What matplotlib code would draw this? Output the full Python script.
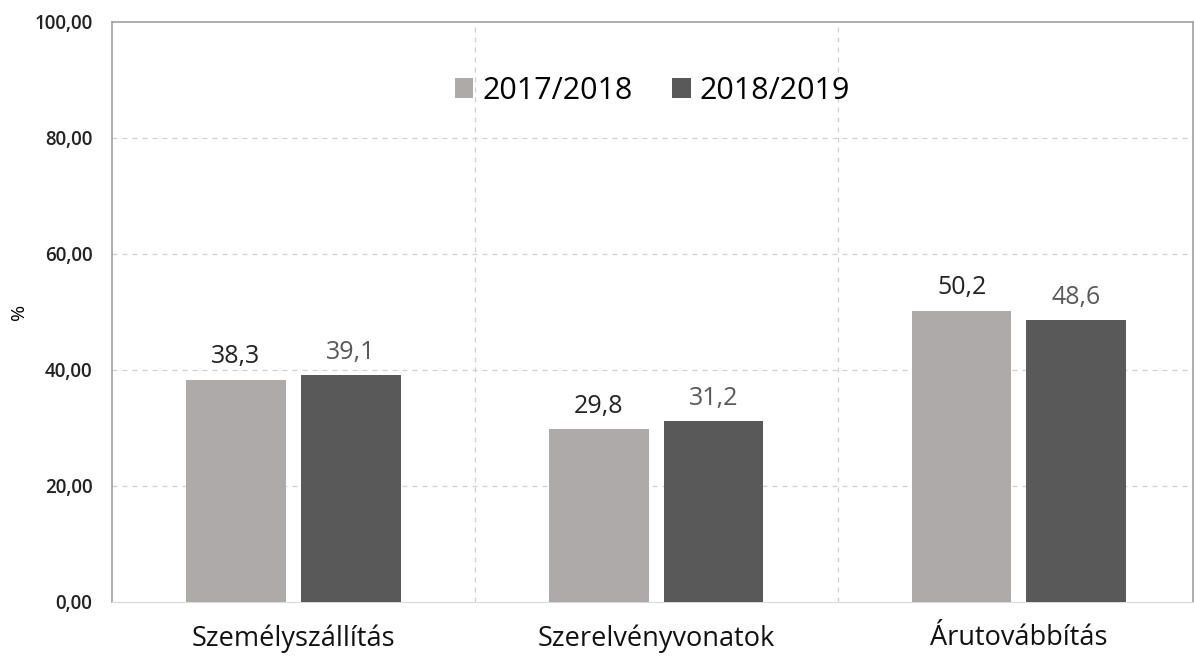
import matplotlib.pyplot as plt
import numpy as np

categories = ['Személyszállítás', 'Szerelvényvonatok', 'Árutovábbítás']
series_names = ['2017/2018', '2018/2019']
values_1718 = [38.3, 29.8, 50.2]
values_1819 = [39.1, 31.2, 48.6]
yticks = [0, 20, 40, 60, 80, 100]

plt.rcParams['font.family'] = ['Open Sans', 'DejaVu Sans']

fig = plt.figure(figsize=(11.94, 6.6), dpi=100)
ax = fig.add_axes([112 / 1194, 1 - 602 / 660, (1193 - 112) / 1194, 580 / 660])

x = np.arange(len(categories))
w = 0.275
off = 0.158
ax.bar(x - off, values_1718, w, color='#AEAAAA', label=series_names[0], zorder=3)
ax.bar(x + off, values_1819, w, color='#595959', label=series_names[1], zorder=3)

for xi, v in zip(x - off, values_1718):
    ax.text(xi, v + 1.8, f'{v:.1f}'.replace('.', ','), ha='center', va='bottom',
            fontsize=18, color='#222222')
for xi, v in zip(x + off, values_1819):
    ax.text(xi, v + 1.8, f'{v:.1f}'.replace('.', ','), ha='center', va='bottom',
            fontsize=18, color='#595959')

ax.set_xlim(-0.5, 2.48)
ax.set_ylim(0, 100)
ax.set_yticks(yticks)
ax.set_yticklabels([f'{t:.2f}'.replace('.', ',') for t in yticks], fontsize=13.5,
                   fontweight='semibold', color='#222222')
ax.set_xticks(x)
ax.set_xticklabels(categories, fontsize=19.5, color='#111111')
ax.tick_params(axis='x', length=0, pad=16)
ax.tick_params(axis='y', length=0, pad=14)

for t in yticks[1:-1]:
    ax.axhline(t, color='#D0D0D0', linestyle=(0, (4, 4)), linewidth=0.9, zorder=1)
for s in [0.5, 1.5]:
    ax.axvline(s, color='#D0D0D0', linestyle=(0, (4, 4)), linewidth=0.9, zorder=1)

for side in ['left', 'top', 'right']:
    ax.spines[side].set_color('#A0A0A0')
    ax.spines[side].set_linewidth(1.2)
ax.spines['bottom'].set_color('#D9D9D9')

ax.set_ylabel('%', fontsize=14, labelpad=10)
ax.yaxis.set_label_coords(-84 / 1081, 0.5)

ax.legend(loc='upper center', bbox_to_anchor=(0.5, 0.955), ncol=2, frameon=False,
          fontsize=22, handlelength=0.6, handleheight=0.6, handletextpad=0.3,
          columnspacing=1.3)

fig.savefig('out.png', dpi=100)
